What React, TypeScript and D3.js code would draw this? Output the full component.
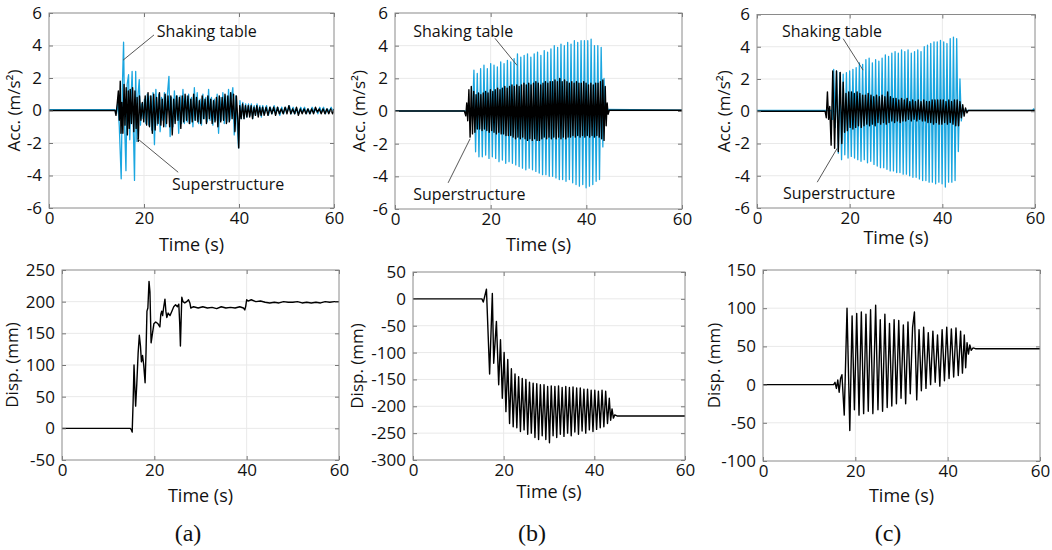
import React, { useRef, useEffect } from 'react';
import * as d3 from 'd3';

type Pt = [number, number];

// axis ticks
const timeTicks = [0, 20, 40, 60];
const accTicks = [-6, -4, -2, 0, 2, 4, 6];
const dispTicksA = [-50, 0, 50, 100, 150, 200, 250];
const dispTicksB = [-300, -250, -200, -150, -100, -50, 0, 50];
const dispTicksC = [-100, -50, 0, 50, 100, 150];
const panelLetters = ['(a)', '(b)', '(c)'];

// (a) acceleration: shaking table / superstructure  [time s, acc m/s2]
const tableAccA: Pt[] = [[0,0.05],[13.9,0.05],[14.2,-0.2],[14.5,0.5],[14.8,-1.0],[15.2,-4.2],[15.45,1.5],[15.7,4.2],[15.95,-1.2],[16.2,-3.7],[16.45,1.6],[16.75,2.2],[17.0,-1.8],[17.25,0.6],[17.5,2.4],[17.75,-1.0],[18.0,-4.3],[18.25,2.4],[18.5,-1.9],[18.75,1.0],[19.0,1.9],[19.25,-0.9],[19.5,0.4],[19.8,-0.5],[20.1,0.7],[20.4,-0.8],[20.7,1.0],[21.0,-0.9],[21.3,0.9],[21.6,-1.2],[21.9,1.1],[22.2,-2.1],[22.5,1.3],[22.8,-0.9],[23.1,1.0],[23.4,-1.3],[23.7,0.8],[24.0,-0.6],[24.3,1.1],[24.6,-1.0],[24.9,0.9],[25.25,2.1],[25.5,-1.6],[25.8,0.8],[26.1,-1.0],[26.4,1.2],[26.7,-0.6],[27.0,0.9],[27.3,-1.4],[27.6,0.9],[27.9,-0.8],[28.2,1.3],[28.5,-0.8],[28.8,0.9],[29.1,-0.7],[29.4,1.0],[29.7,-0.8],[30.0,0.8],[30.3,-1.0],[30.6,1.4],[30.9,-0.6],[31.2,1.1],[31.5,-0.8],[31.8,0.7],[32.1,-0.9],[32.4,1.0],[32.7,-0.5],[33.0,0.8],[33.3,-0.7],[33.6,1.3],[33.9,-0.6],[34.2,0.8],[34.5,-0.9],[34.8,0.7],[35.1,-0.6],[35.4,1.0],[35.7,-1.4],[36.0,0.8],[36.3,-0.6],[36.6,1.1],[36.9,-0.8],[37.2,0.9],[37.5,-0.7],[37.8,1.3],[38.1,-0.6],[38.4,0.8],[38.7,1.4],[39.0,-1.5],[39.3,0.9],[39.6,-0.8],[39.9,-2.3],[40.2,0.6],[40.5,-0.5],[40.8,0.5],[41.1,-0.5],[41.4,0.4],[41.7,-0.4],[42.0,0.4],[42.3,-0.3],[42.6,0.4],[42.9,-0.5],[43.2,0.3],[43.5,-0.3],[43.8,0.4],[44.1,-0.3],[44.4,0.3],[44.7,-0.4],[45.0,0.3],[45.4,-0.2],[45.8,0.3],[46.2,-0.3],[46.6,0.2],[47.0,-0.2],[47.4,0.3],[47.8,-0.2],[48.2,0.2],[48.6,-0.3],[49.0,0.2],[49.4,-0.2],[49.8,0.2],[50.2,-0.1],[50.6,0.3],[51.0,-0.2],[51.4,0.2],[51.8,-0.2],[52.2,0.1],[52.6,-0.2],[53.0,0.2],[53.4,-0.1],[53.8,0.2],[54.2,-0.2],[54.6,0.1],[55.0,-0.2],[55.4,0.2],[55.8,-0.1],[56.2,0.1],[56.6,-0.2],[57.0,0.2],[57.4,-0.1],[57.8,0.2],[58.2,-0.2],[58.6,0.1],[59.0,-0.1],[59.4,0.2],[59.8,-0.1],[60,0.1]];
const superAccA: Pt[] = [[0,0],[13.9,0],[14.1,-0.3],[14.35,0.4],[14.6,1.2],[14.8,-0.6],[15.0,1.8],[15.15,-1.4],[15.35,0.5],[15.55,-1.4],[15.8,1.6],[16.0,-0.9],[16.25,1.4],[16.5,-1.5],[16.7,1.2],[16.9,-1.1],[17.1,1.3],[17.35,-0.8],[17.6,1.4],[17.85,-1.3],[18.1,1.2],[18.35,-1.1],[18.55,0.8],[18.8,-1.9],[19.05,0.9],[19.35,-0.6],[19.65,0.5],[19.95,-0.7],[20.25,0.9],[20.55,-0.9],[20.85,1.1],[21.15,-1.0],[21.45,0.9],[21.75,-1.4],[22.05,1.0],[22.35,-1.2],[22.65,0.8],[22.95,-0.8],[23.25,1.1],[23.55,-0.9],[23.85,0.7],[24.15,-1.0],[24.45,1.0],[24.75,-0.8],[25.05,0.9],[25.4,-1.0],[25.65,0.9],[25.95,-1.5],[26.25,0.7],[26.55,-0.8],[26.85,0.9],[27.15,-0.6],[27.45,0.8],[27.75,-1.1],[28.05,0.9],[28.35,-0.7],[28.65,1.0],[28.95,-0.6],[29.25,0.9],[29.55,-0.8],[29.85,0.7],[30.15,-0.7],[30.45,1.0],[30.75,-0.6],[31.05,0.8],[31.35,-0.7],[31.65,0.6],[31.95,-0.8],[32.25,0.9],[32.55,-0.5],[32.85,0.7],[33.15,-0.8],[33.45,0.9],[33.75,-0.5],[34.05,0.7],[34.35,-0.8],[34.65,0.6],[34.95,-0.7],[35.25,0.8],[35.55,-1.0],[35.85,0.9],[36.15,-0.7],[36.45,0.8],[36.75,-0.6],[37.05,1.0],[37.35,-0.8],[37.65,0.9],[37.95,-0.7],[38.25,1.1],[38.55,-0.5],[38.85,1.0],[39.15,-1.3],[39.45,0.9],[39.75,-0.6],[39.95,-2.3],[40.15,0.3],[40.45,-0.5],[40.75,0.4],[41.05,-0.5],[41.35,0.3],[41.65,-0.4],[41.95,0.3],[42.25,-0.4],[42.55,0.3],[42.85,-0.5],[43.15,0.2],[43.45,-0.3],[43.75,0.3],[44.05,-0.4],[44.35,0.2],[44.65,-0.3],[44.95,0.2],[45.3,-0.3],[45.7,0.2],[46.1,-0.3],[46.5,0.2],[46.9,-0.2],[47.3,0.2],[47.7,-0.3],[48.1,0.2],[48.5,-0.2],[48.9,0.1],[49.3,-0.2],[49.7,0.2],[50.1,-0.2],[50.5,0.3],[50.9,-0.2],[51.3,0.1],[51.7,-0.2],[52.1,0.2],[52.5,-0.3],[52.9,0.1],[53.3,-0.2],[53.7,0.1],[54.1,-0.2],[54.5,0.1],[54.9,-0.2],[55.3,0.1],[55.7,-0.2],[56.1,0.2],[56.5,-0.1],[56.9,0.1],[57.3,-0.2],[57.7,0.1],[58.1,-0.2],[58.5,0.1],[58.9,-0.2],[59.3,0.1],[59.7,-0.2],[60,0.1]];

// (b) acceleration
const tableAccB: Pt[] = [[0,0],[15.8,0],[16.2,-0.3],[16.5,2.5],[16.85,-2.5],[17.2,2.3],[17.55,-2.8],[17.9,2.6],[18.25,-2.8],[18.6,2.8],[18.95,-2.7],[19.3,2.6],[19.65,-2.9],[20.0,2.9],[20.35,-2.8],[20.7,2.8],[21.05,-2.9],[21.4,2.7],[21.75,-3.1],[22.1,3.0],[22.45,-3.0],[22.8,2.9],[23.15,-3.2],[23.5,3.1],[23.85,-3.1],[24.2,3.0],[24.55,-3.2],[24.9,3.2],[25.25,-3.3],[25.6,3.5],[25.95,-3.4],[26.3,3.3],[26.65,-3.5],[27.0,3.4],[27.35,-3.6],[27.7,3.5],[28.05,-3.5],[28.4,3.3],[28.75,-3.6],[29.1,3.5],[29.45,-3.7],[29.8,3.6],[30.15,-3.8],[30.5,3.4],[30.85,-3.9],[31.2,3.7],[31.55,-3.9],[31.9,3.6],[32.25,-4.0],[32.6,3.8],[32.95,-4.0],[33.3,4.0],[33.65,-4.1],[34.0,3.9],[34.35,-4.2],[34.7,4.1],[35.05,-4.2],[35.4,4.0],[35.75,-4.3],[36.1,4.2],[36.45,-4.2],[36.8,4.1],[37.15,-4.4],[37.5,4.3],[37.85,-4.5],[38.2,4.2],[38.55,-4.6],[38.9,4.3],[39.25,-4.5],[39.6,4.3],[39.95,-4.7],[40.3,4.3],[40.65,-4.6],[41.0,4.4],[41.35,-4.5],[41.7,4.0],[42.05,-4.3],[42.4,4.0],[42.75,-4.2],[43.1,3.9],[43.45,-2.2],[43.7,2.0],[43.95,-0.5],[44.2,0.1],[60,0.05]];
const superAccB: Pt[] = [[0,0],[14.5,0],[14.8,-0.3],[15.0,0.5],[15.2,-0.6],[15.45,1.3],[15.7,-1.6],[15.95,1.5],[16.2,-1.4],[16.45,1.2],[16.7,-1.3],[16.95,1.0],[17.2,-1.1],[17.45,1.1],[17.7,-1.1],[17.95,1.0],[18.2,-1.2],[18.45,1.1],[18.7,-1.1],[18.95,1.2],[19.2,-1.2],[19.45,1.1],[19.7,-1.3],[19.95,1.3],[20.2,-1.2],[20.45,1.2],[20.7,-1.3],[20.95,1.3],[21.2,-1.4],[21.45,1.4],[21.7,-1.3],[21.95,1.3],[22.2,-1.4],[22.45,1.4],[22.7,-1.4],[22.95,1.5],[23.2,-1.5],[23.45,1.4],[23.7,-1.5],[23.95,1.5],[24.2,-1.5],[24.45,1.6],[24.7,-1.6],[24.95,1.5],[25.2,-1.7],[25.45,1.6],[25.7,-1.6],[25.95,1.5],[26.2,-1.7],[26.45,1.6],[26.7,-1.6],[26.95,1.7],[27.2,-1.7],[27.45,1.6],[27.7,-1.8],[27.95,1.7],[28.2,-1.7],[28.45,1.6],[28.7,-1.8],[28.95,1.7],[29.2,-1.7],[29.45,1.8],[29.7,-1.8],[29.95,1.7],[30.2,-1.8],[30.45,1.6],[30.7,-1.7],[30.95,1.7],[31.2,-1.6],[31.45,1.8],[31.7,-1.7],[31.95,1.7],[32.2,-1.6],[32.45,1.8],[32.7,-1.7],[32.95,1.8],[33.2,-1.6],[33.45,1.9],[33.7,-1.7],[33.95,1.8],[34.2,-1.6],[34.45,2.0],[34.7,-1.7],[34.95,1.8],[35.2,-1.6],[35.45,1.9],[35.7,-1.7],[35.95,1.8],[36.2,-1.6],[36.45,1.7],[36.7,-1.6],[36.95,1.8],[37.2,-1.5],[37.45,1.7],[37.7,-1.6],[37.95,1.8],[38.2,-1.5],[38.45,1.7],[38.7,-1.6],[38.95,1.7],[39.2,-1.5],[39.45,1.8],[39.7,-1.6],[39.95,1.7],[40.2,-1.5],[40.45,1.6],[40.7,-1.6],[40.95,1.7],[41.2,-1.5],[41.45,1.6],[41.7,-1.6],[41.95,1.7],[42.2,-1.5],[42.45,1.7],[42.7,-1.6],[42.95,1.8],[43.2,-1.7],[43.45,1.9],[43.7,-1.8],[43.95,1.5],[44.15,-0.9],[44.35,0.5],[44.55,-0.2],[44.8,0.05],[60,0.05]];

// (c) acceleration
const tableAccC: Pt[] = [[0,0.05],[16.0,0.05],[16.3,-0.5],[16.55,2.6],[16.9,-1.0],[17.2,2.5],[17.55,-2.6],[17.9,2.4],[18.25,-3.0],[18.6,2.3],[18.95,-2.7],[19.3,2.4],[19.65,-2.9],[20.0,2.5],[20.35,-2.8],[20.7,2.6],[21.05,-2.9],[21.4,2.7],[21.75,-3.0],[22.1,3.0],[22.45,-3.1],[22.8,2.9],[23.15,-3.0],[23.5,3.2],[23.85,-3.2],[24.2,3.3],[24.55,-3.1],[24.9,3.0],[25.25,-3.3],[25.6,3.2],[25.95,-3.4],[26.3,3.1],[26.65,-3.5],[27.0,3.3],[27.35,-3.5],[27.7,3.5],[28.05,-3.6],[28.4,3.4],[28.75,-3.7],[29.1,3.6],[29.45,-3.7],[29.8,3.7],[30.15,-3.8],[30.5,3.6],[30.85,-3.8],[31.2,3.8],[31.55,-3.9],[31.9,3.7],[32.25,-3.9],[32.6,3.8],[32.95,-4.0],[33.3,3.6],[33.65,-4.1],[34.0,3.7],[34.35,-4.1],[34.7,3.8],[35.05,-4.2],[35.4,3.7],[35.75,-4.3],[36.1,4.0],[36.45,-4.3],[36.8,4.1],[37.15,-4.4],[37.5,4.2],[37.85,-4.4],[38.2,4.3],[38.55,-4.5],[38.9,4.3],[39.25,-4.4],[39.6,4.4],[39.95,-4.5],[40.3,4.3],[40.65,-4.7],[41.0,4.2],[41.35,-4.4],[41.7,4.5],[42.05,-4.4],[42.4,4.6],[42.75,-4.3],[43.1,4.5],[43.45,-2.5],[43.8,2.0],[44.1,-0.6],[44.4,0.2],[44.7,0.05],[59.5,0.05],[59.7,0.15],[60,0.1]];
const superAccC: Pt[] = [[0,0],[14.7,0],[14.95,-0.4],[15.2,1.2],[15.45,-0.5],[15.7,0.3],[16.0,-2.1],[16.35,2.5],[16.75,-2.3],[17.15,2.5],[17.55,-2.5],[17.95,2.4],[18.3,-2.0],[18.6,1.8],[18.9,-1.3],[19.2,1.1],[19.5,-1.2],[19.8,1.2],[20.1,-1.0],[20.4,1.2],[20.7,-1.1],[21.0,1.1],[21.3,-1.0],[21.6,1.2],[21.9,-0.9],[22.2,1.1],[22.5,-1.0],[22.8,1.0],[23.1,-0.9],[23.4,1.0],[23.7,-0.8],[24.0,1.1],[24.3,-0.9],[24.6,1.0],[24.9,-0.8],[25.2,0.9],[25.5,-0.9],[25.8,1.0],[26.1,-0.7],[26.4,0.9],[26.7,-0.8],[27.0,1.0],[27.3,-0.7],[27.6,0.9],[27.9,-0.8],[28.2,1.2],[28.5,-0.7],[28.8,0.9],[29.1,-0.6],[29.4,0.8],[29.7,-0.7],[30.0,0.8],[30.3,-0.6],[30.6,0.7],[30.9,-0.7],[31.2,0.8],[31.5,-0.6],[31.8,0.7],[32.1,-0.6],[32.4,0.8],[32.7,-0.5],[33.0,0.6],[33.3,-0.6],[33.6,0.7],[33.9,-0.5],[34.2,0.6],[34.5,-0.6],[34.8,0.7],[35.1,-0.5],[35.4,0.6],[35.7,-0.6],[36.0,0.7],[36.3,-0.6],[36.6,0.6],[36.9,-0.7],[37.2,0.6],[37.5,-0.7],[37.8,0.7],[38.1,-0.8],[38.4,0.7],[38.7,-0.7],[39.0,0.7],[39.3,-0.8],[39.6,0.7],[39.9,-0.8],[40.2,0.7],[40.5,-0.7],[40.8,0.6],[41.1,-0.8],[41.4,0.7],[41.7,-0.7],[42.0,0.6],[42.3,-0.8],[42.6,0.7],[42.9,-0.9],[43.2,0.7],[43.5,-0.9],[43.8,0.6],[44.1,-0.4],[44.4,0.4],[44.7,-0.3],[45.0,0.2],[45.3,-0.1],[45.6,0.05],[60,0.05]];

// superstructure displacement [time s, disp mm]
const dispA: Pt[] = [[0,0],[14.8,0],[15.0,-2],[15.2,-6],[15.4,40],[15.6,100],[15.8,60],[15.95,35],[16.2,70],[16.5,120],[16.75,147],[17.0,130],[17.2,105],[17.45,115],[17.7,100],[18.0,72],[18.2,120],[18.4,185],[18.6,190],[18.85,232],[19.05,215],[19.3,135],[19.6,150],[19.9,165],[20.3,168],[20.8,165],[21.2,160],[21.4,180],[21.6,185],[21.8,178],[22.0,190],[22.3,204],[22.5,185],[22.7,175],[23.0,182],[23.4,178],[23.8,185],[24.2,192],[24.6,195],[25.0,192],[25.3,196],[25.5,165],[25.65,130],[25.8,170],[25.95,207],[26.2,200],[26.6,198],[27.0,200],[27.4,203],[27.7,198],[27.9,190],[28.5,192],[29.5,190],[30.5,192],[31.5,190],[32.5,191],[33.5,189],[34.5,192],[35.5,190],[36.5,191],[37.5,190],[38.5,192],[39.3,190],[39.6,187],[39.8,193],[40.0,203],[40.3,201],[41,203],[42,200],[43,201],[44,199],[45,198],[46,199],[47,198],[48,200],[49,199],[50,199],[51,200],[52,198],[53,199],[54,198],[55,199],[56,198],[57,200],[58,199],[59,200],[60,200]];
const dispB: Pt[] = [[0,0],[15.2,0],[15.5,-6],[15.8,4],[16.2,18],[16.9,-140],[17.5,10],[17.8,-120],[18.4,-42],[18.9,-160],[19.3,-76],[19.7,-185],[20.1,-100],[20.5,-210],[20.9,-113],[21.3,-232],[21.7,-130],[22.1,-238],[22.5,-140],[22.9,-240],[23.3,-145],[23.7,-247],[24.1,-148],[24.5,-244],[24.9,-150],[25.3,-252],[25.7,-155],[26.1,-250],[26.5,-157],[26.9,-258],[27.3,-158],[27.7,-262],[28.1,-160],[28.5,-255],[28.9,-160],[29.3,-262],[29.7,-163],[30.1,-268],[30.5,-162],[30.9,-255],[31.3,-163],[31.7,-258],[32.1,-162],[32.5,-252],[32.9,-165],[33.3,-256],[33.7,-163],[34.1,-250],[34.5,-165],[34.9,-255],[35.3,-164],[35.7,-248],[36.1,-166],[36.5,-252],[36.9,-166],[37.3,-246],[37.7,-168],[38.1,-250],[38.5,-168],[38.9,-244],[39.3,-170],[39.7,-247],[40.1,-170],[40.5,-243],[40.9,-172],[41.3,-240],[41.7,-170],[42.1,-238],[42.5,-172],[42.9,-232],[43.3,-185],[43.6,-226],[43.9,-205],[44.2,-222],[44.5,-216],[45,-218],[60,-218]];
const dispC: Pt[] = [[0,0],[15.3,0],[15.6,3],[15.9,-5],[16.2,6],[16.5,-10],[16.8,8],[17.1,13],[17.6,-40],[18.2,100],[18.8,-60],[19.3,90],[19.8,-33],[20.3,93],[20.8,-40],[21.3,95],[21.8,-38],[22.3,92],[22.8,-35],[23.3,98],[23.8,-38],[24.4,104],[24.9,-33],[25.4,85],[25.9,-35],[26.4,92],[26.9,-30],[27.4,80],[27.9,-28],[28.4,85],[28.9,-25],[29.4,84],[29.9,-18],[30.4,78],[30.9,-25],[31.4,82],[31.9,-12],[32.4,75],[32.8,95],[33.3,-20],[33.8,72],[34.3,-8],[34.8,75],[35.3,-5],[35.8,68],[36.3,0],[36.8,70],[37.3,3],[37.8,65],[38.3,-2],[38.8,72],[39.3,5],[39.8,75],[40.3,8],[40.8,73],[41.3,10],[41.8,74],[42.3,12],[42.8,70],[43.2,15],[43.6,65],[43.9,22],[44.2,55],[44.5,40],[44.8,52],[45.1,45],[45.5,48],[46,47],[60,47]];

const BLUE = '#1aa6e0';
const FONT = "'Open Sans', 'Noto Sans', sans-serif";

interface Note { text: string; tx: number; ty: number; from: Pt; to: Pt }
interface Panel {
  box: { x0: number; x1: number; y0: number; y1: number };
  yDomain: [number, number];
  yTicks: number[];
  yLabel: string;
  yLabelX: number;
  xLabelDy: number;
  series: { data: Pt[]; color: string; width: number }[];
  notes: Note[];
}

const panels: Panel[] = [
  { box: { x0: 49, x1: 334, y0: 13, y1: 208 }, yDomain: [-6, 6], yTicks: accTicks, yLabel: 'Acc. (m/s²)', yLabelX: 15, xLabelDy: 38,
    series: [{ data: tableAccA, color: BLUE, width: 1.3 }, { data: superAccA, color: '#000', width: 1.4 }],
    notes: [
      { text: 'Shaking table', tx: 22.7, ty: 4.8, from: [22.1, 4.65], to: [15.6, 3.1] },
      { text: 'Superstructure', tx: 25.9, ty: -4.6, from: [27.2, -3.8], to: [18.5, -1.7] },
    ] },
  { box: { x0: 395, x1: 682, y0: 13, y1: 209 }, yDomain: [-6, 6], yTicks: accTicks, yLabel: 'Acc. (m/s²)', yLabelX: 360, xLabelDy: 37,
    series: [{ data: tableAccB, color: BLUE, width: 1.3 }, { data: superAccB, color: '#000', width: 1.4 }],
    notes: [
      { text: 'Shaking table', tx: 3.8, ty: 4.8, from: [20.9, 4.45], to: [25.5, 2.8] },
      { text: 'Superstructure', tx: 3.8, ty: -5.2, from: [11.1, -4.4], to: [15.7, -1.7] },
    ] },
  { box: { x0: 757, x1: 1035, y0: 14.5, y1: 208 }, yDomain: [-6, 6], yTicks: accTicks, yLabel: 'Acc. (m/s²)', yLabelX: 725, xLabelDy: 31,
    series: [{ data: tableAccC, color: BLUE, width: 1.3 }, { data: superAccC, color: '#000', width: 1.4 }],
    notes: [
      { text: 'Shaking table', tx: 5.4, ty: 4.9, from: [18.6, 4.5], to: [22.9, 2.55] },
      { text: 'Superstructure', tx: 5.6, ty: -5.2, from: [13.0, -4.4], to: [17.3, -2.3] },
    ] },
  { box: { x0: 62, x1: 339, y0: 270, y1: 460 }, yDomain: [-50, 250], yTicks: dispTicksA, yLabel: 'Disp. (mm)', yLabelX: 13.5, xLabelDy: 37,
    series: [{ data: dispA, color: '#000', width: 1.4 }], notes: [] },
  { box: { x0: 413, x1: 685, y0: 272, y1: 460 }, yDomain: [-300, 50], yTicks: dispTicksB, yLabel: 'Disp. (mm)', yLabelX: 358, xLabelDy: 33,
    series: [{ data: dispB, color: '#000', width: 1.4 }], notes: [] },
  { box: { x0: 763, x1: 1040, y0: 270, y1: 461 }, yDomain: [-100, 150], yTicks: dispTicksC, yLabel: 'Disp. (mm)', yLabelX: 715, xLabelDy: 36,
    series: [{ data: dispC, color: '#000', width: 1.4 }], notes: [] },
];

const letterX = [188, 532, 888];

function drawPanel(svg: any, p: Panel, i: number) {
  const { x0, x1, y0, y1 } = p.box;
  const x = d3.scaleLinear().domain([0, 60]).range([x0, x1]);
  const y = d3.scaleLinear().domain(p.yDomain).range([y1, y0]);
  const g = svg.append('g');

  // grid
  g.append('g').selectAll('line').data(timeTicks.slice(1, -1)).enter().append('line')
    .attr('x1', (d: number) => x(d)).attr('x2', (d: number) => x(d))
    .attr('y1', y0).attr('y2', y1).attr('stroke', '#e9e9e9').attr('stroke-width', 1);
  g.append('g').selectAll('line').data(p.yTicks.slice(1, -1)).enter().append('line')
    .attr('x1', x0).attr('x2', x1)
    .attr('y1', (d: number) => y(d)).attr('y2', (d: number) => y(d))
    .attr('stroke', '#e9e9e9').attr('stroke-width', 1);

  const clipId = `clip${i}`;
  g.append('clipPath').attr('id', clipId).append('rect')
    .attr('x', x0).attr('y', y0).attr('width', x1 - x0).attr('height', y1 - y0);

  const line = d3.line<Pt>().x(d => x(d[0])).y(d => y(d[1]));
  p.series.forEach(s => {
    g.append('path').datum(s.data)
      .attr('clip-path', `url(#${clipId})`)
      .attr('d', line)
      .attr('fill', 'none')
      .attr('stroke', s.color)
      .attr('stroke-width', s.width)
      .attr('stroke-linejoin', 'round');
  });

  const fmt = (d: any) => String(d);
  const styleAxis = (sel: any) => {
    sel.select('.domain').remove();
    sel.selectAll('line').attr('stroke', '#777');
    sel.selectAll('text').attr('fill', '#111').style('font-family', FONT).style('font-size', '17px');
  };
  g.append('g').attr('transform', `translate(${x0},0)`)
    .call(d3.axisLeft(y).tickValues(p.yTicks).tickSize(-4).tickPadding(7).tickFormat(fmt)).call(styleAxis);
  g.append('g').attr('transform', `translate(${x1},0)`)
    .call(d3.axisRight(y).tickValues(p.yTicks).tickSize(-4).tickFormat(() => '')).call(styleAxis);
  g.append('g').attr('transform', `translate(0,${y1})`)
    .call(d3.axisBottom(x).tickValues(timeTicks).tickSize(-4).tickPadding(4).tickFormat(fmt)).call(styleAxis);
  g.append('g').attr('transform', `translate(0,${y0})`)
    .call(d3.axisTop(x).tickValues(timeTicks).tickSize(-4).tickFormat(() => '')).call(styleAxis);

  g.append('rect').attr('x', x0).attr('y', y0).attr('width', x1 - x0).attr('height', y1 - y0)
    .attr('fill', 'none').attr('stroke', '#8a8a8a').attr('stroke-width', 1);

  // axis titles
  g.append('text').attr('x', (x0 + x1) / 2).attr('y', y1 + p.xLabelDy)
    .attr('text-anchor', 'middle').attr('dominant-baseline', 'middle')
    .style('font-family', FONT).style('font-size', '18px').attr('fill', '#111').text('Time (s)');
  const cy = (y0 + y1) / 2;
  g.append('text').attr('transform', `translate(${p.yLabelX},${cy}) rotate(-90)`)
    .attr('text-anchor', 'middle').attr('dominant-baseline', 'middle')
    .style('font-family', FONT).style('font-size', '17px').attr('fill', '#111').text(p.yLabel);

  // annotations
  p.notes.forEach(n => {
    g.append('line').attr('x1', x(n.from[0])).attr('y1', y(n.from[1]))
      .attr('x2', x(n.to[0])).attr('y2', y(n.to[1]))
      .attr('stroke', '#444').attr('stroke-width', 0.9);
    g.append('text').attr('x', x(n.tx)).attr('y', y(n.ty))
      .attr('dominant-baseline', 'middle')
      .style('font-family', FONT).style('font-size', '16px').attr('fill', '#111').text(n.text);
  });
}

const App = () => {
  const ref = useRef<SVGSVGElement>(null);

  useEffect(() => {
    const svg = d3.select(ref.current);
    svg.selectAll('*').remove();
    svg.append('rect').attr('width', 1052).attr('height', 550).attr('fill', '#fff');
    panels.forEach((p, i) => drawPanel(svg, p, i));

    svg.append('g').selectAll('text').data(panelLetters).enter().append('text')
      .attr('x', (_d: string, i: number) => letterX[i]).attr('y', 541)
      .attr('text-anchor', 'middle')
      .style('font-family', "'Liberation Serif', 'Times New Roman', serif")
      .style('font-size', '24px').attr('fill', '#111')
      .text((d: string) => d);
  }, []);

  return (
    <svg ref={ref} width={1052} height={550}
      style={{ position: 'absolute', left: 0, top: 0, display: 'block' }} />
  );
};

export default App;
